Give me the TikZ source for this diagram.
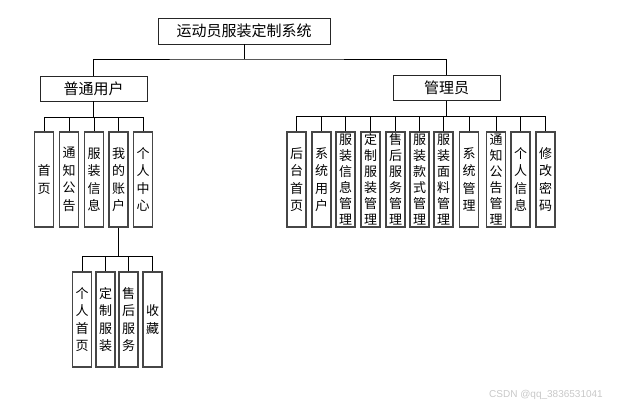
\documentclass[tikz,border=0pt]{standalone}
\usepackage{fontspec}
\setmainfont{Noto Sans CJK SC}
\newfontfamily\markfont{Liberation Sans}
\usetikzlibrary{calc}
\definecolor{boxgray}{RGB}{70,70,70}
\definecolor{markgray}{RGB}{200,200,200}

\begin{document}
\begin{tikzpicture}[x=1pt,y=-1pt,
  topbox/.style={draw=black!85,line width=0.9pt,minimum width=107pt,minimum height=25pt,inner sep=0pt,font=\fontsize{15}{17}\selectfont},
  leaf/.style={draw=boxgray,line width=1.2pt,minimum width=19pt,minimum height=95pt,inner sep=0pt,align=center},
  link/.style={line width=0.8pt,black}]
\useasboundingbox (0,0) rectangle (620,406);

%top level
\node[topbox,minimum width=172pt,minimum height=26pt] (sys) at (244,31) {运动员服装定制系统};
\node[topbox] (user) at (93.5,88.5) {普通用户};
\node[topbox] (admin) at (446.5,88) {管理员};
\coordinate (topbar) at (244,59);
\draw[link] (sys.south) -- (topbar);
\draw[link] (user.north) |- (topbar) -| (admin.north);

%user side
\coordinate (ubar) at (93.5,117);
\draw[link] (user.south) -- (ubar);
\foreach \x/\t [count=\i] in {44/{首\\页},69/{通\\知\\公\\告},94/{服\\装\\信\\息},118.5/{我\\的\\账\\户},143/{个\\人\\中\\心}}{
  \node[leaf,font=\fontsize{13}{17.5}\selectfont] (u\i) at (\x,179.5) {\t};
  \draw[link] (u\i.north) |- (ubar);
}

%my account
\coordinate (zbar) at (118.5,256);
\draw[link] (u4.south) -- (zbar);
\foreach \x/\t [count=\i] in {82/{个\\人\\首\\页},105.5/{定\\制\\服\\装},128.5/{售\\后\\服\\务},152.5/{收\\藏}}{
  \node[leaf,font=\fontsize{13}{17.5}\selectfont] (z\i) at (\x,319.5) {\t};
  \draw[link] (z\i.north) |- (zbar);
}

%admin side
\coordinate (abar) at (446.5,116);
\draw[link] (admin.south) -- (abar);
\foreach \x/\ls/\t [count=\i] in {296.5/17.5/{后\\台\\首\\页},321.5/17.5/{系\\统\\用\\户},345.5/16/{服\\装\\信\\息\\管\\理},
  370.5/16/{定\\制\\服\\装\\管\\理},395.5/16/{售\\后\\服\\务\\管\\理},419.5/16/{服\\装\\款\\式\\管\\理},
  443.5/16/{服\\装\\面\\料\\管\\理},469/17.5/{系\\统\\管\\理},496/16/{通\\知\\公\\告\\管\\理},
  520.5/17.5/{个\\人\\信\\息},545.5/17.5/{修\\改\\密\\码}}{
  \node[leaf,font=\fontsize{13}{\ls}\selectfont] (a\i) at (\x,179.5) {\t};
  \draw[link] (a\i.north) |- (abar);
}

\node[text=markgray,font=\markfont\fontsize{10}{12}\selectfont,anchor=east,inner sep=0pt] (mark) at (603,395) {CSDN @qq\_3836531041};
\end{tikzpicture}
\end{document}
